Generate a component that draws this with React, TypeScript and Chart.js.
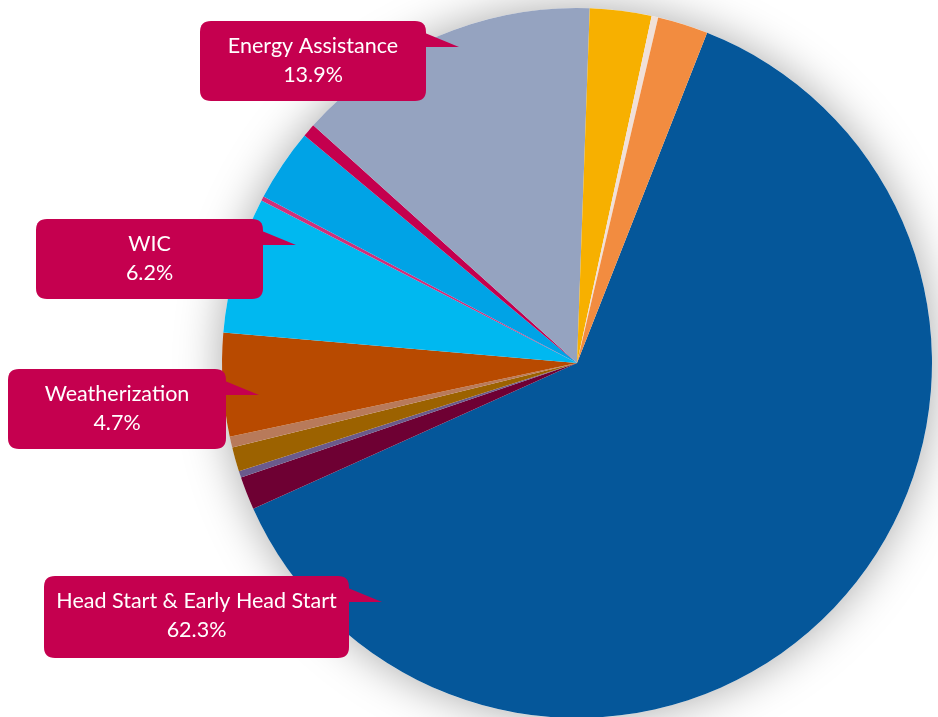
import React, { useEffect, useRef } from "react";
import { Chart, registerables } from "chart.js";

Chart.register(...registerables);

// ---- data (clockwise, starting at the Head Start slice) ----
const categories = [
  "Head Start & Early Head Start",
  "Community Services Block Grant",
  "Senior Services",
  "Housing",
  "Transportation",
  "Weatherization",
  "WIC",
  "Emergency Services",
  "Child Care",
  "Health Services",
  "Energy Assistance",
  "Nutrition",
  "Education",
  "Employment & Training",
];
const values = [62.3, 1.5, 0.3, 1.1, 0.5, 4.7, 6.2, 0.2, 3.3, 0.6, 13.9, 2.8, 0.3, 2.3];
const sliceColors = [
  "#05579a",
  "#6e0033",
  "#6a5a8c",
  "#9c6200",
  "#b87a5a",
  "#b84a00",
  "#00b8f0",
  "#d0307a",
  "#00a3e6",
  "#c4004e",
  "#95a3c0",
  "#f7b000",
  "#f0e0d8",
  "#f28c40",
];
const calloutCategories = ["Energy Assistance", "WIC", "Weatherization", "Head Start & Early Head Start"];

// ---- layout of callout boxes (style/position, not data) ----
const calloutBoxes = [
  { x: 200, y: 21, w: 226, h: 80 },
  { x: 36, y: 219, w: 227, h: 80 },
  { x: 8, y: 369, w: 218, h: 80 },
  { x: 44, y: 576, w: 305, h: 82 },
];
const CALLOUT_COLOR = "#c5004f";
const POINTER_LEN = 33;

function roundRect(ctx: CanvasRenderingContext2D, x: number, y: number, w: number, h: number, r: number) {
  ctx.beginPath();
  ctx.moveTo(x + r, y);
  ctx.lineTo(x + w - r, y);
  ctx.quadraticCurveTo(x + w, y, x + w, y + r);
  ctx.lineTo(x + w, y + h - r);
  ctx.quadraticCurveTo(x + w, y + h, x + w - r, y + h);
  ctx.lineTo(x + r, y + h);
  ctx.quadraticCurveTo(x, y + h, x, y + h - r);
  ctx.lineTo(x, y + r);
  ctx.quadraticCurveTo(x, y, x + r, y);
  ctx.closePath();
}

const shadowPlugin = {
  id: "pieShadow",
  beforeDatasetsDraw(chart: any) {
    const arc = chart.getDatasetMeta(0).data[0];
    if (!arc) return;
    const { x, y, outerRadius } = arc.getProps(["x", "y", "outerRadius"], true);
    const ctx = chart.ctx as CanvasRenderingContext2D;
    ctx.save();
    ctx.shadowColor = "rgba(0,0,0,0.34)";
    ctx.shadowBlur = 46;
    ctx.beginPath();
    ctx.arc(x, y, outerRadius, 0, Math.PI * 2);
    ctx.fillStyle = "#ffffff";
    ctx.fill();
    ctx.restore();
  },
};

const calloutPlugin = {
  id: "callouts",
  afterDraw(chart: any) {
    const ctx = chart.ctx as CanvasRenderingContext2D;
    const labels: string[] = chart.data.labels;
    const data: number[] = chart.data.datasets[0].data;
    calloutCategories.forEach((name, i) => {
      const idx = labels.indexOf(name);
      if (idx < 0) return;
      const b = calloutBoxes[i];
      ctx.save();
      ctx.fillStyle = CALLOUT_COLOR;
      roundRect(ctx, b.x, b.y, b.w, b.h, 11);
      ctx.fill();
      // pointer
      ctx.beginPath();
      ctx.moveTo(b.x + b.w - 1, b.y + 12);
      ctx.lineTo(b.x + b.w + POINTER_LEN, b.y + 26);
      ctx.lineTo(b.x + b.w - 1, b.y + 26);
      ctx.closePath();
      ctx.fill();
      // text
      ctx.fillStyle = "#ffffff";
      ctx.font = "21.5px Lato, 'Open Sans', sans-serif";
      ctx.textAlign = "center";
      ctx.textBaseline = "middle";
      const cx = b.x + b.w / 2;
      ctx.fillText(name, cx, b.y + 25);
      ctx.fillText(data[idx].toFixed(1) + "%", cx, b.y + 54);
      ctx.restore();
    });
  },
};

export default function App() {
  const ref = useRef<HTMLCanvasElement | null>(null);
  useEffect(() => {
    if (!ref.current) return;
    const chart = new Chart(ref.current, {
      type: "pie",
      data: {
        labels: categories,
        datasets: [
          {
            data: values,
            backgroundColor: sliceColors,
            borderWidth: 0,
          },
        ],
      },
      options: {
        responsive: false,
        animation: false,
        rotation: 21.5,
        layout: { padding: { left: 222, right: 6, top: 8, bottom: 2 } },
        plugins: {
          legend: { display: false },
          tooltip: { enabled: false },
        },
      },
      plugins: [shadowPlugin, calloutPlugin],
    });
    return () => chart.destroy();
  }, []);
  return (
    <div style={{ position: "fixed", left: 0, top: 0, width: 938, height: 720, background: "#fff" }}>
      <canvas ref={ref} width={938} height={720} />
    </div>
  );
}
